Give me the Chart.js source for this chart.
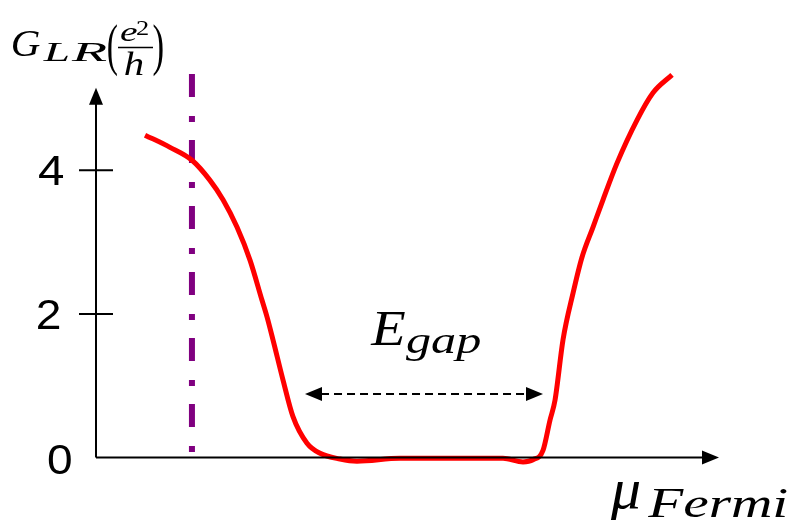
<!DOCTYPE html>
<html>
<head>
<meta charset="utf-8">
<script src="https://cdn.jsdelivr.net/npm/chart.js@4/dist/chart.umd.min.js"></script>
<style>
  html, body { margin: 0; padding: 0; background: #ffffff; }
  #wrap { width: 793px; height: 524px; position: relative; }
</style>
</head>
<body>
<div id="wrap"><canvas id="chart" width="793" height="524"></canvas></div>
<script>
// Chemical potential (arbitrary units) and conductance G_LR in units of e^2/h
const muValues = [0.787, 1.188, 1.541, 1.830, 2.039, 2.263, 2.472, 2.665, 2.745, 2.841,
                  3.002, 3.162, 3.387, 3.596, 3.917, 4.189, 4.880, 6.533, 6.854, 7.014,
                  7.175, 7.287, 7.368, 7.496, 7.657, 7.801, 7.978, 8.138, 8.363, 8.684,
                  8.941, 9.246];
const conductance = [4.49, 4.32, 4.14, 3.86, 3.59, 3.21, 2.75, 2.19, 1.96, 1.64,
                     1.08, 0.57, 0.20, 0.06, -0.02, -0.05, -0.01, -0.01, -0.06, -0.03,
                     0.10, 0.52, 0.80, 1.64, 2.29, 2.79, 3.21, 3.59, 4.10, 4.70,
                     5.08, 5.33];
const yTickValues = [0, 2, 4];
const yTickLabels = ['0', '2', '4'];
// Position of the vertical marker and extent of the gap arrow
const markerMu = 1.54;
const markerRange = [0.06, 5.34];
const gapStart = 3.355;
const gapEnd = 7.175;
const gapLevel = 0.884;

const serifItalic = (px) => 'italic ' + px + 'px "Liberation Serif", "DejaVu Serif", serif';
const serifUpright = (px) => px + 'px "Liberation Serif", "DejaVu Serif", serif';
const sans = (px) => px + 'px "Liberation Sans", Arial, sans-serif';

function arrowHead(ctx, tipX, tipY, dirX, dirY, len, half) {
  const bx = tipX - dirX * len, by = tipY - dirY * len;
  const px = -dirY, py = dirX;
  ctx.beginPath();
  ctx.moveTo(tipX, tipY);
  ctx.lineTo(bx + px * half, by + py * half);
  ctx.lineTo(bx - px * half, by - py * half);
  ctx.closePath();
  ctx.fill();
}

// Draw text left-aligned at (x, baseline), stretched horizontally to the given ink width
function fitText(ctx, text, font, x, baseline, width) {
  ctx.save();
  ctx.font = font;
  ctx.textAlign = 'left';
  ctx.textBaseline = 'alphabetic';
  const m = ctx.measureText(text);
  const inkLeft = -m.actualBoundingBoxLeft;
  const inkW = m.actualBoundingBoxRight + m.actualBoundingBoxLeft;
  const sx = width / inkW;
  ctx.translate(x, baseline);
  ctx.scale(sx, 1);
  ctx.fillText(text, -inkLeft, 0);
  ctx.restore();
}

const decorations = {
  id: 'decorations',
  afterDatasetsDraw(chart) {
    const ctx = chart.ctx;
    const xs = chart.scales.x, ys = chart.scales.y;
    const x0 = xs.getPixelForValue(0);
    const y0 = ys.getPixelForValue(0);
    const xEnd = xs.getPixelForValue(xs.max);
    const yTop = ys.getPixelForValue(5.15);

    ctx.save();
    ctx.strokeStyle = '#000';
    ctx.fillStyle = '#000';
    ctx.lineWidth = 2;
    ctx.setLineDash([]);
    // axes
    ctx.beginPath();
    ctx.moveTo(x0, y0);
    ctx.lineTo(x0, yTop + 10);
    ctx.moveTo(x0, y0);
    ctx.lineTo(xEnd - 10, y0);
    ctx.stroke();
    arrowHead(ctx, x0, yTop, 0, -1, 17, 7);
    arrowHead(ctx, xEnd, y0, 1, 0, 17, 7);

    // tick marks crossing the axis and tick labels
    yTickValues.forEach((v, i) => {
      const py = ys.getPixelForValue(v);
      if (v !== 0) {
        ctx.beginPath();
        ctx.moveTo(x0 - 17, py);
        ctx.lineTo(x0 + 17, py);
        ctx.stroke();
        fitText(ctx, yTickLabels[i], sans(42), x0 - 58, py + 15, v === 4 ? 26 : 22);
      } else {
        fitText(ctx, yTickLabels[i], sans(42), x0 - 48, py + 16, 23);
      }
    });

    // gap arrow
    const gx1 = xs.getPixelForValue(gapStart);
    const gx2 = xs.getPixelForValue(gapEnd);
    const gy = ys.getPixelForValue(gapLevel);
    ctx.lineWidth = 2;
    ctx.setLineDash([8, 5]);
    ctx.beginPath();
    ctx.moveTo(gx1 + 16, gy);
    ctx.lineTo(gx2 - 16, gy);
    ctx.stroke();
    ctx.setLineDash([]);
    arrowHead(ctx, gx1, gy, -1, 0, 17, 7);
    arrowHead(ctx, gx2, gy, 1, 0, 17, 7);

    // E_gap label
    fitText(ctx, 'E', serifItalic(50), 370, 345, 35);
    fitText(ctx, 'gap', serifItalic(38), 406, 353, 74);

    // y axis title G_LR(e^2/h)
    fitText(ctx, 'G', serifItalic(38), 13, 56, 27);
    fitText(ctx, 'L', serifItalic(28), 42, 61, 27);
    fitText(ctx, 'R', serifItalic(28), 70, 61, 37);
    fitText(ctx, '(', serifUpright(56), 108, 64, 9);
    fitText(ctx, 'e', serifItalic(28), 120, 41, 17);
    fitText(ctx, '2', serifUpright(22), 136, 35, 12);
    ctx.beginPath();
    ctx.lineWidth = 1.5;
    ctx.moveTo(118, 47.5);
    ctx.lineTo(153, 47.5);
    ctx.stroke();
    fitText(ctx, 'h', serifItalic(34), 125, 75, 18);
    fitText(ctx, ')', serifUpright(56), 153, 64, 10);

    // x axis title mu_Fermi
    fitText(ctx, '\u03bc', serifItalic(56), 610, 508, 30);
    fitText(ctx, 'Fermi', serifItalic(43), 647, 517, 140);
    ctx.restore();
  }
};

new Chart(document.getElementById('chart'), {
  type: 'line',
  data: {
    datasets: [
      {
        data: muValues.map((m, i) => ({ x: m, y: conductance[i] })),
        borderColor: '#ff0000',
        borderWidth: 5,
        pointRadius: 0,
        fill: false,
        cubicInterpolationMode: 'monotone',
        clip: false,
        order: 1
      },
      {
        data: [{ x: markerMu, y: markerRange[1] }, { x: markerMu, y: markerRange[0] }],
        borderColor: '#800080',
        borderWidth: 6,
        borderDash: [23, 19, 6, 18],
        borderCapStyle: 'butt',
        pointRadius: 0,
        fill: false,
        clip: false,
        order: 2
      }
    ]
  },
  options: {
    responsive: false,
    animation: false,
    devicePixelRatio: 1,
    layout: { padding: { left: 96, right: 74, top: 62.6, bottom: 30.5 } },
    plugins: { legend: { display: false }, tooltip: { enabled: false } },
    scales: {
      x: { type: 'linear', min: 0, max: 10, display: false },
      y: { type: 'linear', min: -0.5, max: 5.5, display: false,
           afterBuildTicks: (s) => { s.ticks = yTickValues.map(v => ({ value: v })); } }
    }
  },
  plugins: [decorations]
});
</script>
</body>
</html>
